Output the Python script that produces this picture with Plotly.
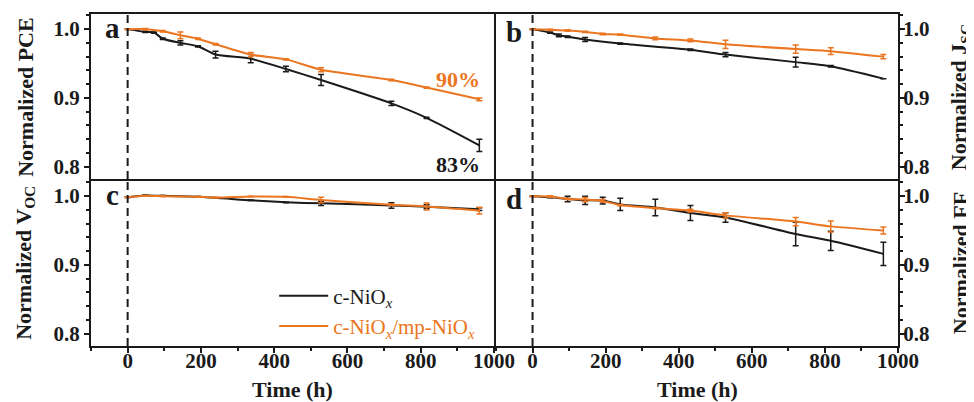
import plotly.graph_objects as go

BLACK = "#1a1a1a"
ORANGE = "#EB7621"
FONT = "Liberation Serif"

# ---------------- data ----------------
# (a) Normalized PCE
t_pce_c = [0, 48, 72, 96, 144, 192, 240, 336, 432, 528, 720, 816, 960]
pce_c = [1.000, 0.996, 0.995, 0.986, 0.980, 0.975, 0.963, 0.957, 0.942, 0.926, 0.892, 0.871, 0.831]
pce_c_err = [0.0005, 0.001, 0.001, 0.001, 0.003, 0.001, 0.005, 0.006, 0.004, 0.008, 0.003, 0.001, 0.009]
t_pce_m = [0, 48, 96, 144, 192, 240, 336, 432, 528, 720, 816, 960]
pce_m = [1.000, 1.000, 0.997, 0.991, 0.986, 0.978, 0.963, 0.956, 0.941, 0.926, 0.915, 0.898]
pce_m_err = [0.0005, 0.001, 0.001, 0.005, 0.001, 0.001, 0.003, 0.001, 0.003, 0.001, 0.001, 0.002]

# (b) Normalized Jsc
t_jsc_c = [0, 48, 72, 96, 144, 240, 432, 528, 720, 816, 960]
jsc_c = [1.000, 0.995, 0.991, 0.989, 0.985, 0.979, 0.970, 0.963, 0.952, 0.946, 0.928]
jsc_c_err = [0.0005, 0.001, 0.002, 0.001, 0.003, 0.001, 0.001, 0.003, 0.007, 0.001, 0.0]
t_jsc_m = [0, 48, 96, 144, 192, 240, 336, 432, 528, 720, 816, 960]
jsc_m = [1.000, 0.999, 0.998, 0.996, 0.993, 0.992, 0.9865, 0.9835, 0.978, 0.971, 0.968, 0.960]
jsc_m_err = [0.0005, 0.001, 0.001, 0.001, 0.001, 0.001, 0.002, 0.002, 0.006, 0.006, 0.005, 0.003]

# (c) Normalized Voc
t_voc_c = [0, 48, 96, 192, 336, 432, 528, 720, 816, 960]
voc_c = [0.9985, 1.001, 1.0005, 0.999, 0.994, 0.991, 0.9895, 0.9865, 0.9845, 0.981]
voc_c_err = [0.0005, 0.0005, 0.0005, 0.0005, 0.0005, 0.0005, 0.003, 0.004, 0.003, 0.002]
t_voc_m = [0, 48, 96, 192, 240, 336, 432, 528, 720, 816, 960]
voc_m = [0.9985, 1.0005, 1.000, 0.999, 0.998, 0.9995, 0.999, 0.9945, 0.9875, 0.985, 0.979]
voc_m_err = [0.0005, 0.0005, 0.0005, 0.0005, 0.0005, 0.0005, 0.0005, 0.004, 0.001, 0.005, 0.005]

# (d) Normalized FF
t_ff_c = [0, 48, 96, 144, 192, 240, 336, 432, 528, 720, 816, 960]
ff_c = [1.000, 0.9985, 0.996, 0.994, 0.9935, 0.988, 0.9835, 0.9755, 0.969, 0.945, 0.935, 0.916]
ff_c_err = [0.0005, 0.001, 0.004, 0.006, 0.005, 0.009, 0.012, 0.011, 0.007, 0.017, 0.014, 0.017]
t_ff_m = [0, 48, 96, 144, 192, 240, 336, 432, 528, 720, 816, 960]
ff_m = [1.000, 0.9995, 0.996, 0.995, 0.993, 0.987, 0.9826, 0.979, 0.972, 0.963, 0.956, 0.950]
ff_m_err = [0.0005, 0.001, 0.001, 0.003, 0.002, 0.001, 0.001, 0.002, 0.004, 0.006, 0.008, 0.005]

series_names = ["c-NiO<sub><i>x</i></sub>",
                "<span style='color:%s'>c-NiO<sub><i>x</i></sub>/mp-NiO<sub><i>x</i></sub></span>" % ORANGE]
panel_letters = ["a", "b", "c", "d"]
y_titles = ["Normalized PCE", "Normalized J<sub>SC</sub>", "Normalized V<sub>OC</sub>", "Normalized FF"]
x_title = "Time (h)"
pct_labels = ["90%", "83%"]
pct_values = [0.927, 0.803]

# ---------------- figure ----------------
fig = go.Figure()

panels = [
    ("x", "y", t_pce_c, pce_c, pce_c_err, t_pce_m, pce_m, pce_m_err, False),
    ("x2", "y2", t_jsc_c, jsc_c, jsc_c_err, t_jsc_m, jsc_m, jsc_m_err, False),
    ("x3", "y3", t_voc_c, voc_c, voc_c_err, t_voc_m, voc_m, voc_m_err, True),
    ("x4", "y4", t_ff_c, ff_c, ff_c_err, t_ff_m, ff_m, ff_m_err, False),
]

for xa, ya, tc, vc, ec, tm, vm, em, show in panels:
    for t, v, e, col, nm in ((tc, vc, ec, BLACK, series_names[0]), (tm, vm, em, ORANGE, series_names[1])):
        fig.add_trace(go.Scatter(
            x=t, y=v, mode="lines", name=nm, showlegend=show,
            line=dict(color=col, width=2, shape="spline", smoothing=0.6),
            error_y=dict(type="data", array=e, visible=True, color=col, thickness=1.5, width=3),
            xaxis=xa, yaxis=ya,
        ))

PW, PH = 807.0, 332.0  # plot area size in px
XL = [0, 403 / PW]
XR = [405 / PW, 1]
YT = [167 / PH, 1]
YB = [0, 165 / PH]

tickfont = dict(family=FONT, size=21, color=BLACK, weight="bold")
common_x = dict(range=[-100, 1000], showline=True, mirror=True, linecolor=BLACK, linewidth=2,
                showgrid=False, zeroline=False, automargin=False)
common_y = dict(range=[0.782, 1.022], showline=True, mirror=True, linecolor=BLACK, linewidth=2,
                showgrid=False, zeroline=False, automargin=False,
                tick0=0.8, dtick=0.1, tickformat=".1f", ticks="outside", ticklen=5, tickwidth=2,
                tickcolor=BLACK, tickfont=tickfont,
                minor=dict(dtick=0.02, tick0=0.8, ticks="outside", ticklen=3, tickwidth=1.5, tickcolor=BLACK))
x_bottom = dict(tick0=0, dtick=200, ticks="outside", ticklen=5, tickwidth=2, tickcolor=BLACK,
                tickfont=tickfont, ticklabelstandoff=-10,
                minor=dict(dtick=100, ticks="outside", ticklen=3, tickwidth=1.5, tickcolor=BLACK))

# page has an 8px body margin: shrink the figure and its margins so the plot area sits at 91..898 x 14..346
fig.update_layout(
    width=966, height=394,
    margin=dict(l=83, r=76, t=6, b=56),
    paper_bgcolor="white", plot_bgcolor="white",
    font=dict(family=FONT, color=BLACK),
    xaxis=dict(domain=XL, anchor="y", showticklabels=False, ticks="", **common_x),
    xaxis2=dict(domain=XR, anchor="y2", showticklabels=False, ticks="", **common_x),
    xaxis3=dict(domain=XL, anchor="y3", **x_bottom, **common_x),
    xaxis4=dict(domain=XR, anchor="y4", **x_bottom, **common_x),
    yaxis=dict(domain=YT, anchor="x", side="left", **common_y),
    yaxis2=dict(domain=YT, anchor="x2", side="right", ticklabelstandoff=-6, **common_y),
    yaxis3=dict(domain=YB, anchor="x3", side="left", **common_y),
    yaxis4=dict(domain=YB, anchor="x4", side="right", ticklabelstandoff=-6, **common_y),
    legend=dict(x=0.227, y=0.212, xanchor="left", yanchor="top", bgcolor="rgba(0,0,0,0)",
                font=dict(family=FONT, size=21, color=BLACK), itemwidth=49,
                tracegroupgap=0),
    showlegend=True,
)

# dashed line at t = 0 in every panel
for xa, ya in (("x", "y"), ("x2", "y2"), ("x3", "y3"), ("x4", "y4")):
    fig.add_shape(type="line", xref=xa, yref=ya + " domain", x0=0, x1=0, y0=0, y1=1,
                  line=dict(color=BLACK, width=2, dash="8px,5px"))

ann = []
# panel letters
for (xa, ya), letter in zip((("x", "y"), ("x2", "y2"), ("x3", "y3"), ("x4", "y4")), panel_letters):
    left = xa in ("x", "x3")
    ann.append(dict(xref=xa + " domain", yref=ya + " domain", x=0.053 if left else 0.045,
                    y=0.915 if left else 0.89, text="<b>%s</b>" % letter, showarrow=False,
                    xanchor="center", yanchor="middle",
                    font=dict(family=FONT, size=29, color=BLACK)))
# axis titles
title_font = dict(family=FONT, size=22, color=BLACK)
ann.append(dict(xref="paper", yref="paper", x=-0.082, y=0.75, text="<b>%s</b>" % y_titles[0],
                textangle=-90, showarrow=False, font=title_font, xanchor="center", yanchor="middle"))
ann.append(dict(xref="paper", yref="paper", x=1.077, y=0.75, text="<b>%s</b>" % y_titles[1],
                textangle=-90, showarrow=False, font=title_font, xanchor="center", yanchor="middle"))
ann.append(dict(xref="paper", yref="paper", x=-0.082, y=0.25, text="<b>%s</b>" % y_titles[2],
                textangle=-90, showarrow=False, font=title_font, xanchor="center", yanchor="middle"))
ann.append(dict(xref="paper", yref="paper", x=1.077, y=0.25, text="<b>%s</b>" % y_titles[3],
                textangle=-90, showarrow=False, font=title_font, xanchor="center", yanchor="middle"))
ann.append(dict(xref="x3 domain", yref="paper", x=0.5, y=-0.131, text="<b>%s</b>" % x_title,
                showarrow=False, font=title_font, xanchor="center", yanchor="middle"))
ann.append(dict(xref="x4 domain", yref="paper", x=0.5, y=-0.131, text="<b>%s</b>" % x_title,
                showarrow=False, font=title_font, xanchor="center", yanchor="middle"))
# percentage labels
for lab, val, col in zip(pct_labels, pct_values, (ORANGE, BLACK)):
    ann.append(dict(xref="x", yref="y", x=968, y=val, text="<b>%s</b>" % lab, showarrow=False,
                    xanchor="right", yanchor="middle", font=dict(family=FONT, size=22, color=col)))

fig.update_layout(annotations=ann)

fig.write_html("out.html")
